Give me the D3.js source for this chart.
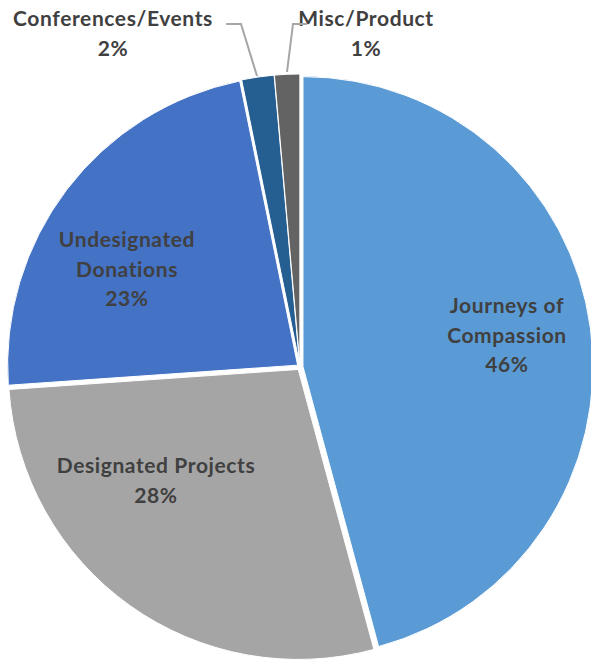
<!DOCTYPE html>
<html>
<head>
<meta charset="utf-8">
<script src="https://cdn.jsdelivr.net/npm/d3@7"></script>
<style>
  body { margin: 0; background: #fff; }
  text { font-family: Lato, 'Open Sans', sans-serif; font-weight: bold; fill: #404040; font-variant-ligatures: none; }
</style>
</head>
<body>
<svg id="pie" width="591" height="660"></svg>
<script>
// slice data, clockwise from 12 o'clock
let categories = ['Journeys of Compassion', 'Designated Projects', 'Undesignated Donations', 'Conferences/Events', 'Misc/Product']
let values = [45.8, 28.1, 22.9, 1.8, 1.4]
let pctLabels = ['46%', '28%', '23%', '2%', '1%']
let nameLines = [['Journeys of', 'Compassion'], ['Designated Projects'], ['Undesignated', 'Donations'], ['Conferences/Events'], ['Misc/Product']]
let colors = ['#5b9bd5', '#a5a5a5', '#4472c4', '#255e91', '#636363']

function main() {
    let svg = d3.select('#pie'),
        cx = 300, cy = 367, radius = 290, explode = 3

    let data = categories.map((c, i) => ({name: c, value: values[i], pct: pctLabels[i], lines: nameLines[i], color: colors[i]}))

    let pie = d3.pie().sort(null).value(d => d.value)
    let arc = d3.arc().innerRadius(0).outerRadius(radius)
    let arcs = pie(data)

    let g = svg.append('g').attr('transform', 'translate(' + cx + ',' + cy + ')')

    g.selectAll('path')
        .data(arcs)
        .enter()
        .append('path')
        .attr('d', arc)
        .attr('fill', d => d.data.color)
        .attr('stroke', '#fff')
        .attr('stroke-width', 1)
        .attr('transform', d => {
            let a = (d.startAngle + d.endAngle) / 2
            return 'translate(' + (Math.sin(a) * explode) + ',' + (-Math.cos(a) * explode) + ')'
        })

    // label placement (page coords): center x, first baseline
    let labelPos = [[507, 313], [156, 473], [127, 247], [113, 26], [366, 26]]
    let lineGap = 29.5

    arcs.forEach((d, i) => {
        let t = svg.append('text')
            .attr('text-anchor', 'middle')
            .attr('font-size', 21)
            .attr('letter-spacing', 0.6)
        let lines = d.data.lines.concat([d.data.pct])
        lines.forEach((l, j) => {
            t.append('tspan')
                .attr('x', labelPos[i][0])
                .attr('y', labelPos[i][1] + j * lineGap)
                .text(l)
        })
    })

    // leader lines for the two small slices
    let leaders = [
        [[226, 24], [241, 24], [257, 76]],
        [[307, 24], [293, 24], [287, 72]]
    ]
    svg.selectAll('.leader')
        .data(leaders)
        .enter()
        .append('path')
        .attr('class', 'leader')
        .attr('d', d3.line())
        .attr('fill', 'none')
        .attr('stroke', '#a6a6a6')
        .attr('stroke-width', 2)
}

main()
</script>
</body>
</html>
